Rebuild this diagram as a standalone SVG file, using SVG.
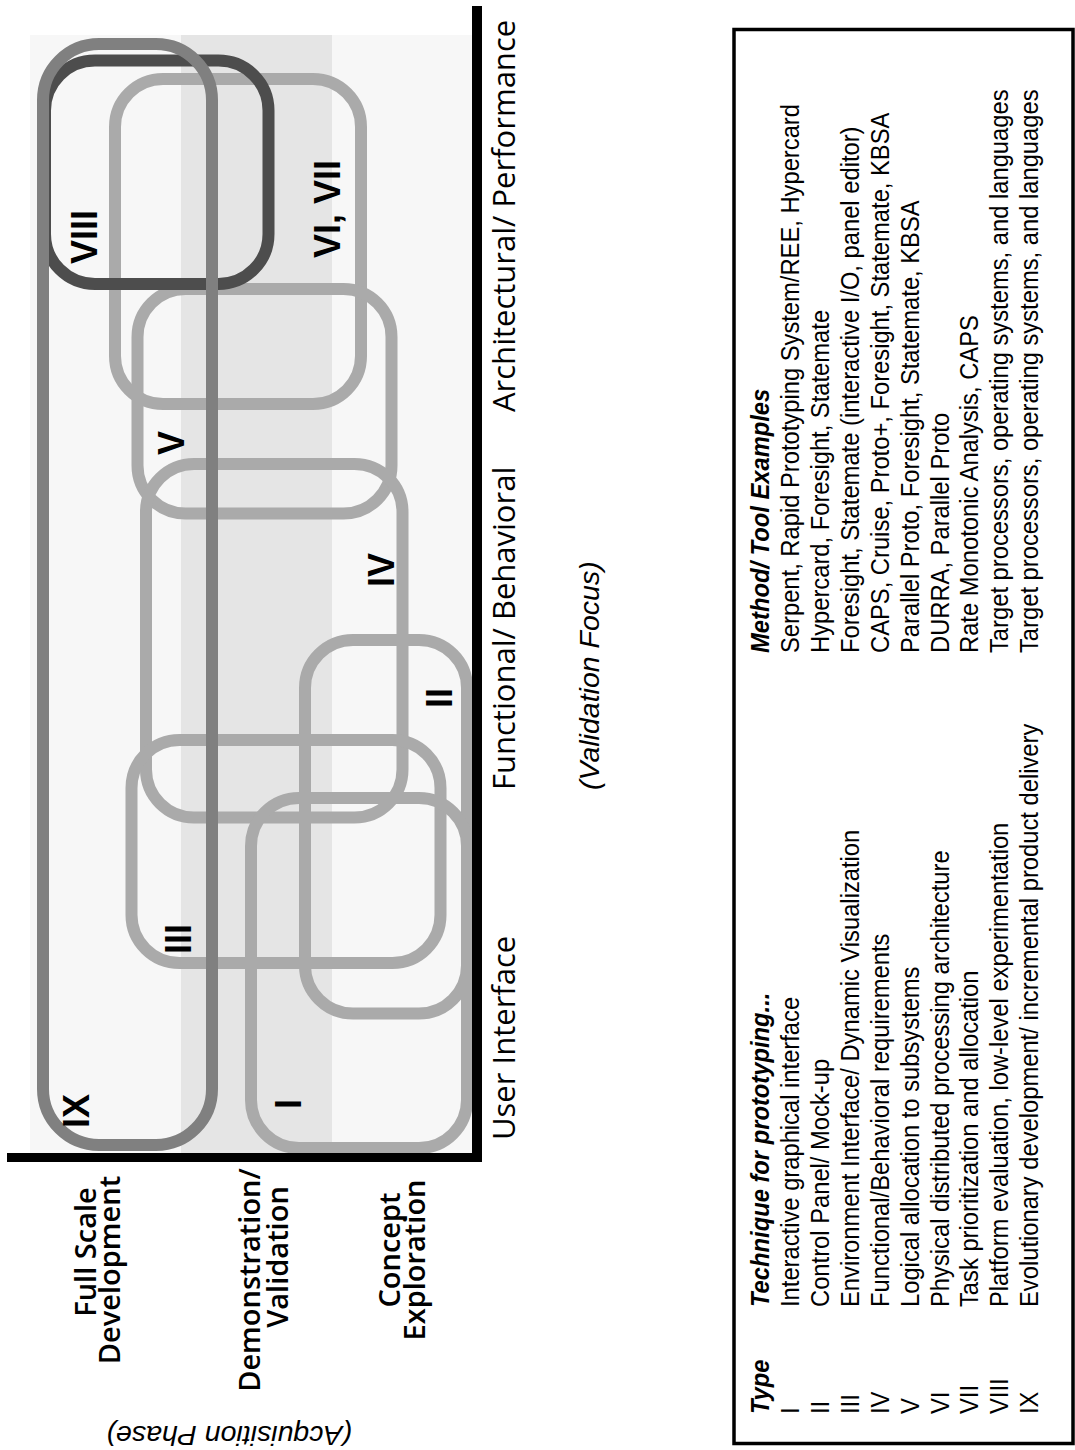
<svg xmlns="http://www.w3.org/2000/svg" width="1075" height="1450" viewBox="0 0 1075 1450">
<style>
.bgl{fill:#f7f7f7}
.bgd{fill:#e5e5e5}
.box{fill:none;stroke-width:12}
.lt{stroke:#aaaaaa}
.md{stroke:#808080}
.dk{stroke:#4d4d4d}
.axis{fill:#000000}
.num{font-family:"Liberation Sans",Arial,sans-serif;font-weight:bold;font-size:36px;fill:#000}
.col{font-family:"Open Sans","Liberation Sans",sans-serif;font-size:31px;fill:#000}
.row{font-family:"Open Sans","Liberation Sans",sans-serif;font-weight:600;font-size:29px;fill:#000;text-anchor:middle}
.tbl{font-family:"Liberation Sans",Arial,sans-serif;font-size:25px;fill:#000}
.hdr{font-weight:bold;font-style:italic}
.ital{font-family:"Liberation Sans",Arial,sans-serif;font-style:italic;font-size:28.5px;fill:#000}
.frame{fill:#fff;stroke:#000;stroke-width:3.5}
</style>
<rect width="1075" height="1450" fill="#ffffff"/>
<g id="chart-background">
<rect class="bgl" x="30" y="35" width="443" height="1118"/>
<rect class="bgd" x="181" y="35" width="151" height="1118"/>
</g>
<g id="node-VI-VII"><rect class="box lt" x="115" y="79" width="246" height="325" rx="48"/></g>
<g id="node-V"><rect class="box lt" x="137.5" y="289" width="254" height="224.5" rx="48"/></g>
<g id="node-IV"><rect class="box lt" x="146" y="464" width="256.5" height="353.5" rx="48"/></g>
<g id="node-II"><rect class="box lt" x="305" y="640" width="162" height="373.5" rx="48"/></g>
<g id="node-III"><rect class="box lt" x="131.5" y="740" width="309" height="223" rx="48"/></g>
<g id="node-I"><rect class="box lt" x="251" y="798" width="216" height="350" rx="48"/></g>
<g id="node-VIII"><rect class="box dk" x="45" y="60.5" width="223.5" height="223.5" rx="50"/></g>
<g id="node-IX"><rect class="box md" x="43" y="44" width="169" height="1101" rx="56"/></g>
<g id="axes">
<rect class="axis" x="472" y="6" width="10" height="1156"/>
<rect class="axis" x="7" y="1153" width="475" height="9"/>
</g>
<g id="node-labels">
<text class="num" transform="translate(97,264) rotate(-90)">VIII</text>
<text class="num" transform="translate(340,258) rotate(-90)">VI, VII</text>
<text class="num" transform="translate(184,455) rotate(-90)">V</text>
<text class="num" transform="translate(394,587) rotate(-90)">IV</text>
<text class="num" transform="translate(452,708) rotate(-90)">II</text>
<text class="num" transform="translate(191,954) rotate(-90)">III</text>
<text class="num" transform="translate(89,1128) rotate(-90)">IX</text>
<text class="num" transform="translate(301,1109) rotate(-90)">I</text>
</g>
<g id="column-labels">
<text class="col" transform="translate(515,1140) rotate(-90)">User Interface</text>
<text class="col" transform="translate(515,790) rotate(-90)">Functional/ Behavioral</text>
<text class="col" transform="translate(515,412) rotate(-90)">Architectural/ Performance</text>
<text class="ital" transform="translate(599,790) rotate(-90)">(Validation Focus)</text>
</g>
<g id="row-labels">
<text class="row" transform="translate(96,1252) rotate(-90)">Full Scale</text>
<text class="row" transform="translate(120,1270) rotate(-90)">Development</text>
<text class="row" transform="translate(260,1280) rotate(-90)">Demonstration/</text>
<text class="row" transform="translate(288,1257) rotate(-90)">Validation</text>
<text class="row" transform="translate(400,1250) rotate(-90)">Concept</text>
<text class="row" transform="translate(425,1260) rotate(-90)">Exploration</text>
<text class="ital" transform="translate(352,1426) rotate(180)">(Acquisition Phase)</text>
</g>
<g id="legend-table">
<rect class="frame" x="734" y="29.5" width="339" height="1414"/>
<text class="tbl hdr" transform="translate(769,1414) rotate(-90) scale(0.95,1)">Type</text>
<text class="tbl hdr" transform="translate(769,1307) rotate(-90) scale(0.95,1)">Technique for prototyping...</text>
<text class="tbl hdr" transform="translate(769,653) rotate(-90) scale(0.95,1)">Method/ Tool Examples</text>
<text class="tbl" transform="translate(799,1414) rotate(-90) scale(0.95,1)">I</text>
<text class="tbl" transform="translate(828.9,1414) rotate(-90) scale(0.95,1)">II</text>
<text class="tbl" transform="translate(858.8,1414) rotate(-90) scale(0.95,1)">III</text>
<text class="tbl" transform="translate(888.7,1414) rotate(-90) scale(0.95,1)">IV</text>
<text class="tbl" transform="translate(918.6,1414) rotate(-90) scale(0.95,1)">V</text>
<text class="tbl" transform="translate(948.5,1414) rotate(-90) scale(0.95,1)">VI</text>
<text class="tbl" transform="translate(978.4,1414) rotate(-90) scale(0.95,1)">VII</text>
<text class="tbl" transform="translate(1008.3,1414) rotate(-90) scale(0.95,1)">VIII</text>
<text class="tbl" transform="translate(1038.2,1414) rotate(-90) scale(0.95,1)">IX</text>
<text class="tbl" transform="translate(799,1307) rotate(-90) scale(0.95,1)">Interactive graphical interface</text>
<text class="tbl" transform="translate(828.9,1307) rotate(-90) scale(0.95,1)">Control Panel/ Mock-up</text>
<text class="tbl" transform="translate(858.8,1307) rotate(-90) scale(0.95,1)">Environment Interface/ Dynamic Visualization</text>
<text class="tbl" transform="translate(888.7,1307) rotate(-90) scale(0.95,1)">Functional/Behavioral requirements</text>
<text class="tbl" transform="translate(918.6,1307) rotate(-90) scale(0.95,1)">Logical allocation to subsystems</text>
<text class="tbl" transform="translate(948.5,1307) rotate(-90) scale(0.95,1)">Physical distributed processing architecture</text>
<text class="tbl" transform="translate(978.4,1307) rotate(-90) scale(0.95,1)">Task prioritization and allocation</text>
<text class="tbl" transform="translate(1008.3,1307) rotate(-90) scale(0.95,1)">Platform evaluation, low-level experimentation</text>
<text class="tbl" transform="translate(1038.2,1307) rotate(-90) scale(0.95,1)">Evolutionary development/ incremental product delivery</text>
<text class="tbl" transform="translate(799,653) rotate(-90) scale(0.95,1)">Serpent, Rapid Prototyping System/REE, Hypercard</text>
<text class="tbl" transform="translate(828.9,653) rotate(-90) scale(0.95,1)">Hypercard, Foresight, Statemate</text>
<text class="tbl" transform="translate(858.8,653) rotate(-90) scale(0.95,1)">Foresight, Statemate (interactive I/O, panel editor)</text>
<text class="tbl" transform="translate(888.7,653) rotate(-90) scale(0.95,1)">CAPS, Cruise, Proto+, Foresight, Statemate, KBSA</text>
<text class="tbl" transform="translate(918.6,653) rotate(-90) scale(0.95,1)">Parallel Proto, Foresight, Statemate, KBSA</text>
<text class="tbl" transform="translate(948.5,653) rotate(-90) scale(0.95,1)">DURRA, Parallel Proto</text>
<text class="tbl" transform="translate(978.4,653) rotate(-90) scale(0.95,1)">Rate Monotonic Analysis, CAPS</text>
<text class="tbl" transform="translate(1008.3,653) rotate(-90) scale(0.95,1)">Target processors, operating systems, and languages</text>
<text class="tbl" transform="translate(1038.2,653) rotate(-90) scale(0.95,1)">Target processors, operating systems, and languages</text>
</g>
</svg>
